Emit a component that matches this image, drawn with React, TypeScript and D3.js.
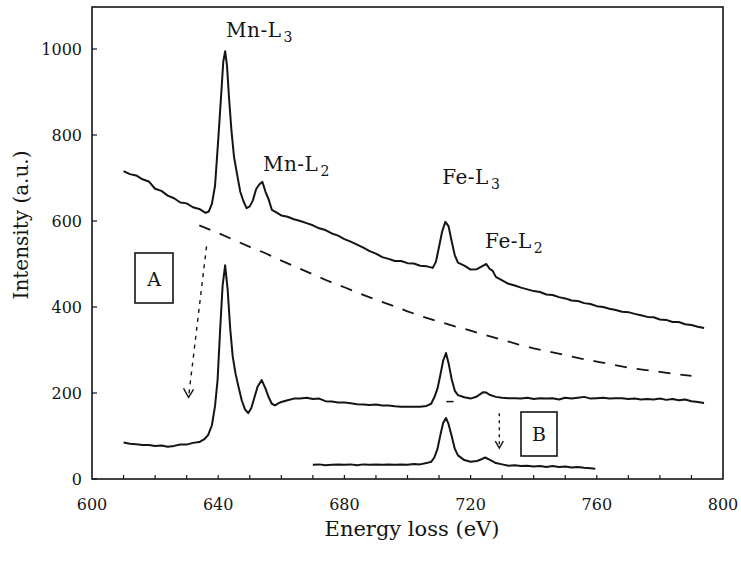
import React from "react";
import * as d3 from "d3";

// ---------- data ----------
const xTicks = [600, 640, 680, 720, 760, 800];
const yTicks = [0, 200, 400, 600, 800, 1000];
const xMinorTicks = [610, 620, 630, 640, 650, 660, 670, 680, 690, 700, 710, 720, 730, 740, 750, 760, 770, 780, 790];

// raw spectrum (top)
const rawEnergy = [610, 612, 614, 616, 618, 620, 622, 624, 626, 628, 630, 632, 634, 636, 637, 638, 639, 640, 641, 641.6, 642.2, 642.8, 643.4, 644.2, 645, 646, 647, 648, 649, 650, 651, 652, 653, 654, 655, 656, 657, 658, 660, 662, 664, 666, 668, 670, 672, 674, 676, 678, 680, 682, 684, 686, 688, 690, 692, 694, 696, 698, 700, 702, 704, 706, 708, 709, 710, 711, 712, 713, 714, 715, 716, 718, 720, 722, 724, 725, 726, 727, 728, 730, 732, 734, 736, 738, 740, 742, 744, 746, 748, 750, 752, 754, 756, 758, 760, 762, 764, 766, 768, 770, 772, 774, 776, 778, 780, 782, 784, 786, 788, 790, 792, 794];
const rawIntensity = [716, 709, 706, 697, 692, 675, 670, 659, 653, 643, 641, 632, 628, 619, 622, 640, 682, 788, 900, 970, 995, 960, 890, 810, 750, 708, 668, 646, 630, 634, 648, 674, 685, 691, 668, 650, 626, 622, 613, 610, 604, 600, 595, 590, 583, 579, 571, 566, 558, 552, 545, 538, 530, 524, 516, 512, 507, 507, 502, 501, 496, 495, 491, 505, 540, 576, 598, 588, 553, 520, 503, 496, 487, 488, 496, 500, 489, 484, 470, 462, 454, 450, 445, 441, 437, 435, 429, 428, 423, 420, 415, 414, 409, 407, 402, 400, 396, 393, 389, 388, 384, 381, 377, 376, 371, 370, 365, 365, 360, 358, 354, 351];

// background-subtracted spectrum (middle)
const subEnergy = [610, 612, 614, 616, 618, 620, 622, 624, 626, 628, 630, 632, 634, 635.5, 636.8, 638, 639, 639.8, 640.6, 641.4, 642.2, 643, 643.8, 644.6, 645.5, 646.5, 647.5, 648.5, 649.5, 650.5, 651.5, 652.5, 653.8, 655, 656, 657, 658, 659, 660, 662, 664, 666, 668, 670, 672, 674, 676, 678, 680, 682, 684, 686, 688, 690, 692, 694, 696, 698, 700, 702, 704, 706, 707.5, 708.5, 709.5, 710.5, 711.3, 712.2, 713, 714, 715, 716, 718, 720, 722, 724, 725, 726, 728, 730, 732, 734, 736, 738, 740, 742, 744, 746, 748, 750, 752, 754, 756, 758, 760, 762, 764, 766, 768, 770, 772, 774, 776, 778, 780, 782, 784, 786, 788, 790, 792, 794];
const subIntensity = [85, 82, 81, 79, 79, 77, 78, 75, 77, 80, 80, 84, 86, 92, 102, 125, 170, 230, 345, 450, 497, 440, 350, 285, 245, 212, 182, 162, 153, 165, 190, 215, 230, 210, 190, 175, 171, 176, 179, 183, 187, 187, 189, 186, 187, 181, 180, 178, 178, 176, 174, 173, 172, 173, 171, 171, 169, 168, 168, 168, 168, 170, 175, 190, 210, 245, 275, 293, 270, 232, 205, 195, 190, 187, 192, 202, 201, 196, 191, 189, 188, 188, 187, 189, 186, 188, 187, 188, 185, 189, 187, 189, 191, 187, 188, 189, 187, 188, 188, 186, 187, 185, 186, 185, 187, 184, 186, 183, 185, 181, 179, 177];

// Fe-only spectrum (bottom)
const feEnergy = [670, 672, 674, 676, 678, 680, 682, 684, 686, 688, 690, 692, 694, 696, 698, 700, 702, 704, 706, 707.5, 708.5, 709.5, 710.5, 711.3, 712.2, 713, 714, 715, 716, 718, 720, 722, 723.5, 724.6, 726, 728, 730, 732, 734, 736, 738, 740, 742, 744, 746, 748, 750, 752, 754, 756, 758, 759.5];
const feIntensity = [33, 34, 32, 33, 34, 33, 34, 32, 34, 33, 34, 33, 34, 33, 34, 33, 35, 34, 37, 40, 50, 70, 105, 130, 142, 128, 100, 70, 55, 44, 40, 42, 46, 50, 45, 37, 34, 31, 32, 30, 31, 29, 30, 28, 30, 28, 29, 27, 28, 26, 25, 24];

// fitted background (dashed)
const bgEnergy = [634, 640, 645, 650, 655, 660, 665, 670, 675, 680, 685, 690, 695, 700, 705, 710, 715, 720, 725, 730, 735, 740, 745, 750, 755, 760, 765, 770, 775, 780, 785, 790];
const bgIntensity = [590, 572, 556, 540, 525, 508, 492, 476, 460, 446, 431, 417, 404, 390, 377, 366, 355, 345, 334, 324, 313, 304, 296, 288, 280, 273, 266, 259, 254, 249, 244, 240];

// short edge background under Fe-L3
const edgeEnergy = [712.3, 714.6];
const edgeIntensity = [180, 180];

const peakLabels = [
  { main: "Mn-L", sub: "3", e: 642.5, v: 1027 },
  { main: "Mn-L", sub: "2", e: 654.2, v: 716 },
  { main: "Fe-L", sub: "3", e: 711, v: 685 },
  { main: "Fe-L", sub: "2", e: 724.6, v: 537 },
];

// ---------- layout ----------
const W = 741;
const H = 563;
const left = 92;
const right = 723;
const top = 7;
const bottom = 479;

const x = d3.scaleLinear().domain([600, 800]).range([left, right]);
const y = d3.scaleLinear().domain([0, 1000]).range([bottom, bottom - 430]);
const yTop = y.invert(top);

function pathOf(es: number[], vs: number[]) {
  const line = d3
    .line<number>()
    .x((_, i) => x(es[i]))
    .y((v) => y(v));
  return line(vs) || "";
}

const serif = '"DejaVu Serif", "Liberation Serif", serif';
const ink = "#141414";
const tf = { fontFamily: serif };

export default function App() {
  const annA = { e1: 636.3, v1: 541, e2: 630.6, v2: 190 };
  const annB = { e: 729.1, v1: 153, v2: 72 };
  return (
    <svg
      width={W}
      height={H}
      style={{ position: "absolute", left: 0, top: 0, background: "#fff", fontFamily: serif }}
    >
      <rect x={0} y={0} width={W} height={H} fill="#fff" />
      {/* frame */}
      <rect
        x={left}
        y={y(yTop)}
        width={right - left}
        height={bottom - y(yTop)}
        fill="none"
        stroke={ink}
        strokeWidth={1.6}
      />
      {/* x ticks */}
      {xMinorTicks.map((t) => (
        <line key={"xm" + t} x1={x(t)} x2={x(t)} y1={bottom} y2={bottom - 4} stroke={ink} strokeWidth={1.2} />
      ))}
      {xTicks.map((t) => (
        <text key={"xt" + t} x={x(t)} y={510} textAnchor="middle" fontSize={16} fill={ink} style={tf}>
          {t}
        </text>
      ))}
      {/* y ticks */}
      {yTicks.map((t) => (
        <g key={"yt" + t}>
          <line x1={left} x2={left + 5} y1={y(t)} y2={y(t)} stroke={ink} strokeWidth={1.2} />
          <text x={82} y={y(t)} dy="0.35em" textAnchor="end" fontSize={16} fill={ink} style={tf}>
            {t}
          </text>
        </g>
      ))}
      {/* axis titles */}
      <text x={412} y={536} textAnchor="middle" fontSize={21} fill={ink} style={tf}>
        Energy loss (eV)
      </text>
      <text
        transform={`translate(28, 225) rotate(-90)`}
        textAnchor="middle"
        fontSize={20}
        fill={ink}
        style={tf}
      >
        Intensity (a.u.)
      </text>

      {/* spectra */}
      <path d={pathOf(bgEnergy, bgIntensity)} fill="none" stroke={ink} strokeWidth={1.8} strokeDasharray="12 10" />
      <path d={pathOf(edgeEnergy, edgeIntensity)} fill="none" stroke={ink} strokeWidth={1.5} />
      <path d={pathOf(rawEnergy, rawIntensity)} fill="none" stroke={ink} strokeWidth={2} strokeLinejoin="round" />
      <path d={pathOf(subEnergy, subIntensity)} fill="none" stroke={ink} strokeWidth={2} strokeLinejoin="round" />
      <path d={pathOf(feEnergy, feIntensity)} fill="none" stroke={ink} strokeWidth={2} strokeLinejoin="round" />

      {/* peak labels */}
      {peakLabels.map((p, i) => (
        <text key={"pl" + i} x={x(p.e)} y={y(p.v)} fontSize={20} letterSpacing={0.5} fill={ink} style={tf}>
          {p.main}
          <tspan fontSize={14} dx={2} dy={5}>
            {p.sub}
          </tspan>
        </text>
      ))}

      {/* annotation A */}
      <rect x={135} y={253} width={38} height={50} fill="none" stroke={ink} strokeWidth={1.6} />
      <text x={154} y={286} textAnchor="middle" fontSize={19} fill={ink} style={tf}>
        A
      </text>
      <line
        x1={x(annA.e1)}
        y1={y(annA.v1)}
        x2={x(annA.e2)}
        y2={y(annA.v2)}
        stroke={ink}
        strokeWidth={1.4}
        strokeDasharray="4 5"
      />
      <path
        d={`M${x(annA.e2) - 5},${y(annA.v2) - 9} L${x(annA.e2)},${y(annA.v2)} L${x(annA.e2) + 5},${y(annA.v2) - 8}`}
        fill="none"
        stroke={ink}
        strokeWidth={1.4}
      />

      {/* annotation B */}
      <rect x={521} y={412} width={36} height={44} fill="none" stroke={ink} strokeWidth={1.6} />
      <text x={539} y={441} textAnchor="middle" fontSize={19} fill={ink} style={tf}>
        B
      </text>
      <line
        x1={x(annB.e)}
        y1={y(annB.v1)}
        x2={x(annB.e)}
        y2={y(annB.v2)}
        stroke={ink}
        strokeWidth={1.4}
        strokeDasharray="3 4"
      />
      <path
        d={`M${x(annB.e) - 4},${y(annB.v2) - 7} L${x(annB.e)},${y(annB.v2)} L${x(annB.e) + 4},${y(annB.v2) - 7}`}
        fill="none"
        stroke={ink}
        strokeWidth={1.4}
      />
    </svg>
  );
}
